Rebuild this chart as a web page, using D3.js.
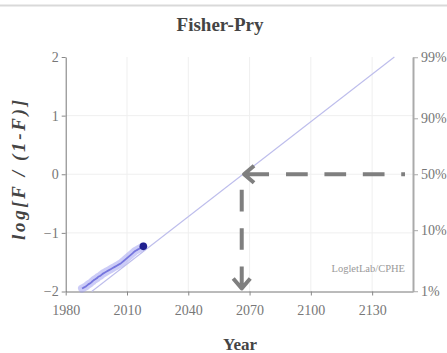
<!DOCTYPE html>
<html>
<head>
<meta charset="utf-8">
<script src="https://cdn.jsdelivr.net/npm/d3@7/dist/d3.min.js"></script>
<style>
  html, body { margin: 0; padding: 0; background: #fff; }
  svg { display: block; }
  text { font-family: "Liberation Serif", "Times New Roman", serif; }
</style>
</head>
<body>
<svg id="chart" width="447" height="353"></svg>
<script>
// Observed share, as log10(F/(1-F)), by year
const years = [1988, 1989, 1990, 1991, 1992, 1993, 1994, 1995, 1996, 1997, 1998,
  1999, 2000, 2001, 2002, 2003, 2004, 2005, 2006, 2007, 2008, 2009, 2010,
  2011, 2012, 2013, 2014, 2015, 2016, 2017, 2018];
const logitValues = [-1.95, -1.93, -1.91, -1.88, -1.86, -1.83, -1.80, -1.78, -1.75,
  -1.73, -1.70, -1.68, -1.66, -1.64, -1.62, -1.60, -1.58, -1.56, -1.54, -1.52,
  -1.49, -1.46, -1.43, -1.40, -1.37, -1.34, -1.31, -1.29, -1.27, -1.25, -1.23];

// Fitted logistic in Fisher-Pry form: a straight line from 1% to 99%
const fitMidpoint = 2066.8;
const fitSlope = 0.0270;
const fitRange = [-2, 2];

// Axis ticks
const xTicks = [1980, 2010, 2040, 2070, 2100, 2130];
const yTicks = [-2, -1, 0, 1, 2];
const pctTicks = [1, 10, 50, 90, 99];
const pctLabels = ["1%", "10%", "50%", "90%", "99%"];

// Midpoint markers (50% share)
const midShare = 0;
const midYear = fitMidpoint;

const svg = d3.select("#chart");
const x = d3.scaleLinear().domain([1980, 2150]).range([65.7, 413]);
const y = d3.scaleLinear().domain([-2, 2]).range([291.5, 57]);
const logit = p => Math.log10(p / (100 - p));
const fitYear = v => fitMidpoint + v / fitSlope;

// Frame line along the top
svg.append("line").attr("x1", 0).attr("x2", 447).attr("y1", 5.5).attr("y2", 5.5)
  .attr("stroke", "#d9d9d9").attr("stroke-width", 2);

// Gridlines
svg.append("g").selectAll("line").data(xTicks.slice(1)).join("line")
  .attr("x1", d => x(d)).attr("x2", d => x(d)).attr("y1", y(2)).attr("y2", y(-2))
  .attr("stroke", "#efefef").attr("stroke-width", 1);
svg.append("g").selectAll("line").data([-1, 0, 1]).join("line")
  .attr("x1", x(1980)).attr("x2", x(2150)).attr("y1", d => y(d)).attr("y2", d => y(d))
  .attr("stroke", "#efefef").attr("stroke-width", 1);

// Axes
const tickStyle = g => {
  g.selectAll("text").attr("font-family", "Liberation Serif, serif")
    .attr("font-size", 14).attr("fill", "#777");
  g.selectAll("line").attr("stroke", "#888");
  g.select(".domain").attr("stroke", "#777");
};
svg.append("g").attr("transform", `translate(0,${y(-2)})`)
  .call(d3.axisBottom(x).tickValues(xTicks).tickFormat(d3.format("d")).tickSize(4).tickSizeOuter(0))
  .call(tickStyle)
  .call(g => g.selectAll("text").attr("dy", "1.2em"));
svg.append("g").attr("transform", `translate(${x(1980)},0)`)
  .call(d3.axisLeft(y).tickValues(yTicks).tickFormat(d => d < 0 ? "\u2212" + Math.abs(d) : d).tickSize(4).tickSizeOuter(0))
  .call(tickStyle);
const pctScale = d3.scaleLinear().domain(y.domain()).range(y.range());
svg.append("g").attr("transform", `translate(${x(2150)},0)`)
  .call(d3.axisRight(pctScale).tickValues(pctTicks.map(logit))
    .tickFormat((d, i) => pctLabels[i]).tickSize(5).tickSizeOuter(0))
  .call(tickStyle)
  .call(g => g.select(".domain").attr("stroke", "#aaa").attr("stroke-width", 2))
  .call(g => g.selectAll("line").attr("stroke", "#aaa"));

// Fitted line
svg.append("path")
  .datum(fitRange)
  .attr("d", d3.line().x(v => x(fitYear(v))).y(v => y(v)))
  .attr("fill", "none").attr("stroke", "#bdbdec").attr("stroke-width", 1.1);

// Observed data: soft band with a darker core
const dataLine = d3.line().x((d, i) => x(years[i])).y(d => y(d)).curve(d3.curveMonotoneX);
svg.append("path").datum(logitValues).attr("d", dataLine)
  .attr("fill", "none").attr("stroke", "#9a9af0").attr("stroke-opacity", 0.5)
  .attr("stroke-width", 8).attr("stroke-linecap", "round");
svg.append("path").datum(logitValues).attr("d", dataLine)
  .attr("fill", "none").attr("stroke", "#5a5ad6").attr("stroke-opacity", 0.75)
  .attr("stroke-width", 1.8);
svg.append("circle")
  .attr("cx", x(years[years.length - 1]))
  .attr("cy", y(logitValues[logitValues.length - 1]))
  .attr("r", 3.8).attr("fill", "#20208f");

// Midpoint arrows
const arrowColor = "#7f7f7f";
const tipX = x(midYear), tipY = y(midShare);
// horizontal: from the 50% tick to the fitted line
svg.append("line").attr("x1", tipX + 43).attr("x2", x(2150) - 8)
  .attr("y1", tipY).attr("y2", tipY)
  .attr("stroke", arrowColor).attr("stroke-width", 4).attr("stroke-dasharray", "21.7,16.7");
svg.append("path")
  .attr("d", `M${tipX + 26},${tipY} L${tipX + 1},${tipY} M${tipX + 11},${tipY - 8.5} L${tipX + 1},${tipY} L${tipX + 11},${tipY + 8.5}`)
  .attr("fill", "none").attr("stroke", arrowColor).attr("stroke-width", 4)
  .attr("stroke-linejoin", "round");
// vertical: from the line down to the year axis
const vx = tipX - 1.3;
svg.append("line").attr("x1", vx).attr("x2", vx)
  .attr("y1", tipY + 15.5).attr("y2", y(-2) - 26)
  .attr("stroke", arrowColor).attr("stroke-width", 4).attr("stroke-dasharray", "21.7,16.7");
svg.append("path")
  .attr("d", `M${vx},${y(-2) - 25} L${vx},${y(-2) - 3} M${vx - 8.5},${y(-2) - 13} L${vx},${y(-2) - 3} L${vx + 8.5},${y(-2) - 13}`)
  .attr("fill", "none").attr("stroke", arrowColor).attr("stroke-width", 4)
  .attr("stroke-linejoin", "round");

// Watermark
svg.append("text").attr("x", 405).attr("y", 271.5).attr("text-anchor", "end")
  .attr("font-size", 10.5).attr("fill", "#999").text("LogletLab/CPHE");

// Titles
svg.append("text").attr("x", 220).attr("y", 31).attr("text-anchor", "middle")
  .attr("font-size", 19).attr("font-weight", "bold").attr("fill", "#444").text("Fisher-Pry");
svg.append("text").attr("x", 240).attr("y", 350).attr("text-anchor", "middle")
  .attr("font-size", 17).attr("font-weight", "bold").attr("fill", "#444").text("Year");
svg.append("text").attr("transform", "translate(25,170) rotate(-90)")
  .attr("text-anchor", "middle").attr("font-size", 19).attr("font-weight", "bold")
  .attr("font-style", "italic").attr("fill", "#444")
  .attr("textLength", 140).attr("lengthAdjust", "spacing")
  .text("log[F / (1-F)]");
</script>
</body>
</html>
